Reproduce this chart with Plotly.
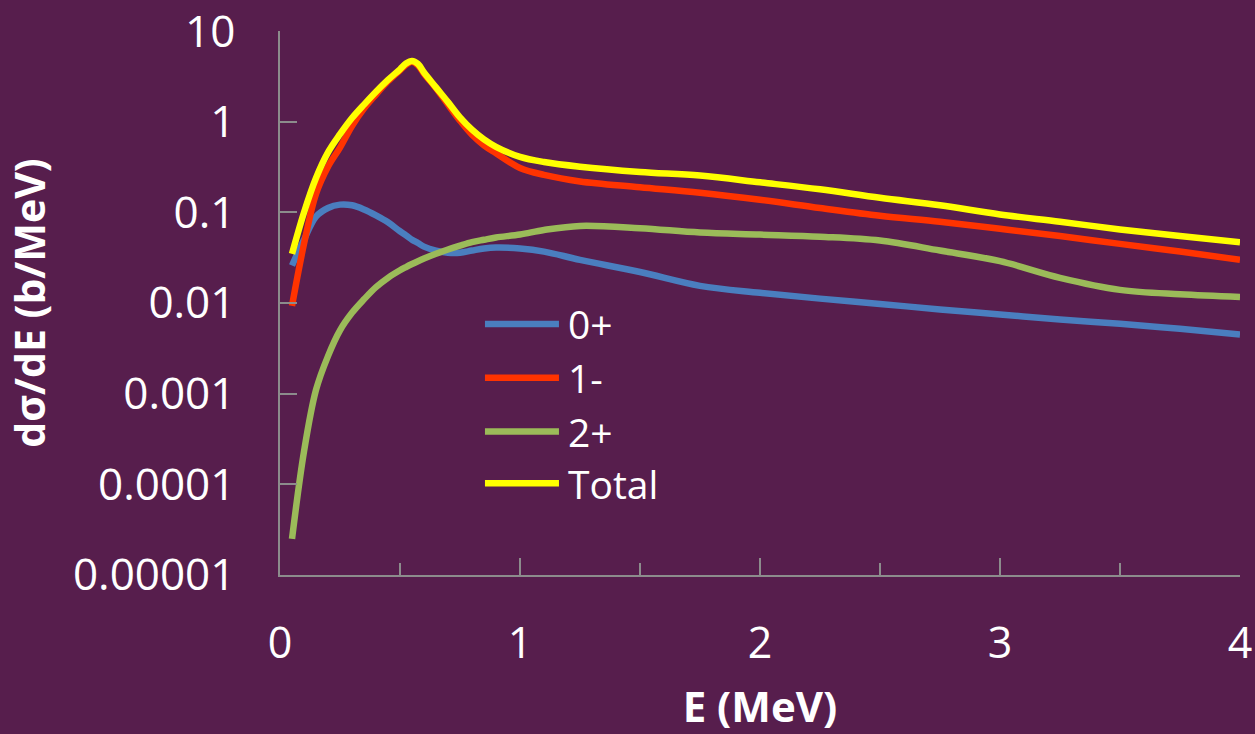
import plotly.graph_objects as go

# Neutron energy grid (MeV)
energy = [0.05, 0.1, 0.15, 0.2, 0.25, 0.3, 0.35, 0.4, 0.45, 0.5, 0.525, 0.55,
          0.575, 0.6, 0.65, 0.7, 0.75, 0.8, 0.85, 0.9, 1.0, 1.1, 1.25, 1.5,
          1.75, 2.0, 2.25, 2.5, 2.75, 3.0, 3.25, 3.5, 3.75, 4.0]

# Partial cross sections dσ/dE (b/MeV) by multipolarity
xs_0plus = [0.026, 0.05, 0.09, 0.112, 0.122, 0.12, 0.108, 0.093, 0.078, 0.062,
            0.056, 0.05, 0.046, 0.042, 0.038, 0.036, 0.036, 0.038, 0.040,
            0.041, 0.040, 0.037, 0.030, 0.022, 0.0155, 0.013, 0.0112, 0.0098,
            0.0085, 0.0075, 0.0066, 0.0059, 0.0052, 0.0045]
xs_1minus = [0.0093, 0.045, 0.16, 0.32, 0.52, 0.9, 1.4, 2.0, 2.8, 3.7, 4.25,
             4.6, 4.2, 3.4, 2.35, 1.55, 1.03, 0.72, 0.55, 0.45, 0.31, 0.26,
             0.22, 0.19, 0.165, 0.138, 0.112, 0.092, 0.079, 0.066, 0.055,
             0.045, 0.037, 0.030]
xs_2plus = [2.5e-5, 2.3e-4, 0.0011, 0.0026, 0.005, 0.0078, 0.011, 0.015, 0.019,
            0.023, 0.025, 0.027, 0.029, 0.031, 0.035, 0.039, 0.043, 0.047,
            0.050, 0.053, 0.057, 0.064, 0.071, 0.067, 0.060, 0.057, 0.054,
            0.049, 0.038, 0.029, 0.019, 0.014, 0.0125, 0.0117]
xs_total = [0.035, 0.1, 0.24, 0.46, 0.73, 1.1, 1.55, 2.15, 2.9, 3.8, 4.4, 4.7,
            4.35, 3.5, 2.4, 1.65, 1.12, 0.82, 0.64, 0.53, 0.41, 0.36, 0.32,
            0.28, 0.255, 0.215, 0.18, 0.145, 0.12, 0.095, 0.079, 0.065, 0.055,
            0.047]

series_names = ["0+", "1-", "2+", "Total"]
series_values = [xs_0plus, xs_1minus, xs_2plus, xs_total]
series_colors = ["#4A7EBF", "#FF3300", "#9BBB59", "#FFFF00"]

x_ticks = [0, 1, 2, 3, 4]
y_ticks = [1e-5, 1e-4, 1e-3, 1e-2, 1e-1, 1, 10]
y_tick_labels = ["0.00001", "0.0001", "0.001", "0.01", "0.1", "1", "10"]

BG = "#571E4D"
AXIS = "#8C8C8C"
FONT = "Open Sans"

fig = go.Figure()
for name, vals, color in zip(series_names, series_values, series_colors):
    fig.add_trace(go.Scatter(
        x=energy, y=vals, name=name, mode="lines",
        line=dict(color=color, width=6.5, shape="spline", smoothing=1.0),
        showlegend=False,
    ))

# Legend drawn as line samples with text labels inside the plot area
leg_x0, leg_x1, leg_tx = 0.2135, 0.2906, 0.298
leg_y = [0.4615, 0.3626, 0.2637, 0.1685]
for name, color, ly in zip(series_names, series_colors, leg_y):
    fig.add_shape(type="line", xref="paper", yref="paper",
                  x0=leg_x0, x1=leg_x1, y0=ly, y1=ly,
                  line=dict(color=color, width=6.5))
    fig.add_annotation(x=leg_tx, y=ly, xref="paper", yref="paper",
                       text=name, showarrow=False, xanchor="left",
                       yanchor="middle",
                       font=dict(family=FONT, size=39, color="white"))

fig.update_layout(
    width=1255, height=734,
    margin=dict(l=280, r=15, t=31, b=159, autoexpand=False),
    paper_bgcolor=BG, plot_bgcolor=BG,
    font=dict(family=FONT, color="white", size=42),
)
fig.update_xaxes(
    range=[0, 4], tickvals=x_ticks, ticktext=[str(v) for v in x_ticks],
    automargin=False,
    showgrid=False, zeroline=False,
    showline=True, linecolor=AXIS, linewidth=1.5,
    ticks="inside", ticklen=17, tickcolor=AXIS, tickwidth=1.5,
    minor=dict(dtick=0.5, ticks="inside", ticklen=12, tickcolor=AXIS,
               tickwidth=1.5, showgrid=False),
    tickfont=dict(family=FONT, size=43, color="white"),
    ticklabelstandoff=30,
    title=dict(text="<b>E (MeV)</b>", standoff=28,
               font=dict(family=FONT, size=42, color="white")),
)
fig.update_yaxes(
    type="log", range=[-5, 1.002], tickvals=y_ticks, ticktext=y_tick_labels,
    automargin=False,
    showgrid=False, zeroline=False,
    showline=True, linecolor=AXIS, linewidth=1.5,
    ticks="inside", ticklen=17, tickcolor=AXIS, tickwidth=1.5,
    tickfont=dict(family=FONT, size=44, color="white"),
    ticklabelstandoff=34, ticklabeloverflow="allow",
    title=dict(text="<b>dσ/dE (b/MeV)</b>", standoff=15,
               font=dict(family=FONT, size=41, color="white")),
)

fig.write_html("out.html")
